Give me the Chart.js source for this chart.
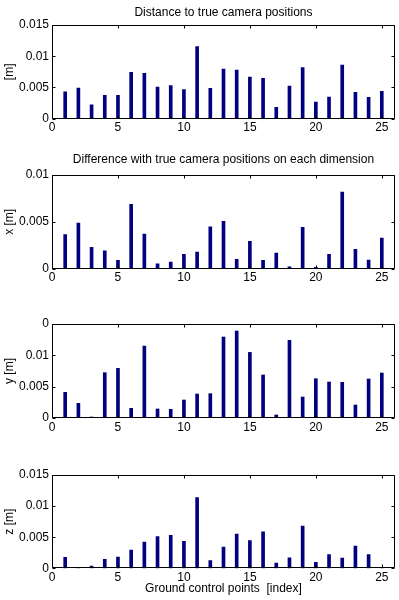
<!DOCTYPE html>
<html>
<head>
<meta charset="utf-8">
<title>Ground control points</title>
<script src="https://cdn.jsdelivr.net/npm/chart.js@4.4.1/dist/chart.umd.min.js"></script>
<style>
  html, body { margin: 0; padding: 0; background: #fff; }
  #page { position: relative; width: 399px; height: 600px; overflow: hidden; }
  .panel { position: absolute; left: 0; width: 399px; }
  .panel canvas { display: block; }
</style>
</head>
<body>
<div id="page">
  <div class="panel" style="top:0"><canvas id="distChart" width="399" height="140"></canvas></div>
  <div class="panel" style="top:140px"><canvas id="xChart" width="399" height="150"></canvas></div>
  <div class="panel" style="top:300px"><canvas id="yChart" width="399" height="140"></canvas></div>
  <div class="panel" style="top:450px"><canvas id="zChart" width="399" height="150"></canvas></div>
</div>
<script>
// ground control point index (x axis)
const gcpIndex = [1, 2, 3, 4, 5, 6, 7, 8, 9, 10, 11, 12, 13, 14, 15, 16, 17, 18, 19, 20, 21, 22, 23, 24, 25];

// errors in metres
const distError = [0.00432, 0.00492, 0.00224, 0.00374, 0.00374, 0.00743, 0.00726, 0.00507, 0.00529, 0.00465,
                   0.01153, 0.00486, 0.00796, 0.00780, 0.00668, 0.00646, 0.00182, 0.00524, 0.00817, 0.00267,
                   0.00347, 0.00860, 0.00422, 0.00342, 0.00438];
const xError = [0.00363, 0.00488, 0.00228, 0.00192, 0.00089, 0.00687, 0.00370, 0.00053, 0.00071, 0.00153,
                0.00178, 0.00448, 0.00506, 0.00100, 0.00292, 0.00089, 0.00168, 0.00021, 0.00441, 0.00014,
                0.00153, 0.00819, 0.00207, 0.00093, 0.00328];
const yError = [0.00410, 0.00234, 0.00016, 0.00723, 0.00792, 0.00154, 0.01148, 0.00144, 0.00138, 0.00287,
                0.00383, 0.00388, 0.01292, 0.01388, 0.01047, 0.00686, 0.00048, 0.01239, 0.00335, 0.00627,
                0.00574, 0.00569, 0.00207, 0.00622, 0.00718];
const zError = [0.00177, 0.00016, 0.00037, 0.00145, 0.00182, 0.00294, 0.00423, 0.00508, 0.00530, 0.00434,
                0.01135, 0.00123, 0.00342, 0.00551, 0.00444, 0.00588, 0.00085, 0.00170, 0.00680, 0.00096,
                0.00219, 0.00166, 0.00358, 0.00219, 0.00010];

// tick values and labels
const xTicks = [0, 5, 10, 15, 20, 25];
const yTicks015 = [0, 0.005, 0.01, 0.015];
const yLabels015 = ['0', '0.005', '0.01', '0.015'];
const yTicks01 = [0, 0.005, 0.01];
const yLabels01 = ['0', '0.005', '0.01'];
const yLabelsY = ['0', '0.005', '0.01', '0'];   // top label is clipped to "0" in the original

const BAR_COLOR = '#000080';
const TICK_LEN = 3;

Chart.defaults.font.family = "'Liberation Sans', Arial, Helvetica, sans-serif";
Chart.defaults.font.size = 12;
Chart.defaults.color = '#000';

// matlab style box with inward ticks on all four sides
const matlabBox = {
    id: 'matlabBox',
    afterDatasetsDraw(chart) {
        const { ctx, chartArea: a, scales: { x, y } } = chart;
        const left = Math.round(a.left) + 0.5;
        const right = Math.round(a.right) - 0.5;
        const top = Math.round(a.top) + 0.5;
        const bottom = Math.round(a.bottom) - 0.5;
        ctx.save();
        ctx.strokeStyle = '#000';
        ctx.lineWidth = 1;
        ctx.beginPath();
        x.ticks.forEach(t => {
            const px = Math.round(x.getPixelForValue(t.value)) + 0.5;
            ctx.moveTo(px, bottom); ctx.lineTo(px, bottom - TICK_LEN);
            ctx.moveTo(px, top); ctx.lineTo(px, top + TICK_LEN);
        });
        y.ticks.forEach(t => {
            const py = Math.round(y.getPixelForValue(t.value)) + 0.5;
            ctx.moveTo(left, py); ctx.lineTo(left + TICK_LEN, py);
            ctx.moveTo(right, py); ctx.lineTo(right - TICK_LEN, py);
        });
        ctx.rect(left, top, right - left, bottom - top);
        ctx.stroke();
        ctx.restore();
    }
};

function makePanel(id, values, opts) {
    return new Chart(document.getElementById(id), {
        type: 'bar',
        data: {
            datasets: [{
                data: gcpIndex.map((g, i) => ({ x: g, y: values[i] })),
                backgroundColor: BAR_COLOR,
                borderWidth: 0,
                barThickness: 3
            }]
        },
        options: {
            responsive: false,
            animation: false,
            layout: { padding: { left: 0, right: 4, top: opts.padTop, bottom: opts.padBottom } },
            plugins: {
                legend: { display: false },
                tooltip: { enabled: false },
                title: {
                    display: !!opts.title,
                    text: opts.title || '',
                    fullSize: false,   // centre over the axes box, not the whole canvas
                    color: '#000',
                    font: { size: 12, weight: 'normal' },
                    padding: { top: opts.titlePad ? opts.titlePad[0] : 0, bottom: opts.titlePad ? opts.titlePad[1] : 0 }
                }
            },
            scales: {
                x: {
                    type: 'linear',
                    min: 0,
                    max: 26,
                    offset: false,
                    grid: { display: false, drawTicks: false },
                    border: { display: false },
                    afterBuildTicks: s => { s.ticks = xTicks.map(v => ({ value: v })); },
                    afterFit: s => { s.height = opts.xHeight; },
                    ticks: { padding: 2, maxRotation: 0, autoSkip: false, font: { size: 12 } },
                    title: {
                        display: !!opts.xTitle,
                        text: opts.xTitle || '',
                        font: { size: 12 },
                        padding: { top: 0, bottom: 0 }
                    }
                },
                y: {
                    min: 0,
                    max: opts.yMax,
                    grid: { display: false, drawTicks: false },
                    border: { display: false },
                    afterBuildTicks: s => { s.ticks = opts.yTicks.map(v => ({ value: v })); },
                    afterFit: s => { s.width = 52; },
                    ticks: { padding: 3, font: { size: 12 }, callback: (v, i) => opts.yLabels[i] },
                    title: { display: true, text: opts.yTitle, font: { size: 12 }, padding: { top: 2, bottom: 0 } }
                }
            }
        },
        plugins: [matlabBox]
    });
}

makePanel('distChart', distError, {
    title: 'Distance to true camera positions', titlePad: [5.5, 5.1],
    padTop: 0, padBottom: 1.3, xHeight: 20,
    yMax: 0.015, yTicks: yTicks015, yLabels: yLabels015, yTitle: '[m]'
});
makePanel('xChart', xError, {
    title: 'Difference with true camera positions on each dimension', titlePad: [12.8, 7.8],
    padTop: 0, padBottom: 1.3, xHeight: 20,
    yMax: 0.01, yTicks: yTicks01, yLabels: yLabels01, yTitle: 'x [m]'
});
makePanel('yChart', yError, {
    padTop: 24, padBottom: 2, xHeight: 20,
    yMax: 0.015, yTicks: yTicks015, yLabels: yLabelsY, yTitle: 'y [m]'
});
makePanel('zChart', zError, {
    padTop: 25, padBottom: 3.8, xHeight: 27.9, xTitle: 'Ground control points  [index]',
    yMax: 0.015, yTicks: yTicks015, yLabels: yLabels015, yTitle: 'z [m]'
});
</script>
</body>
</html>
